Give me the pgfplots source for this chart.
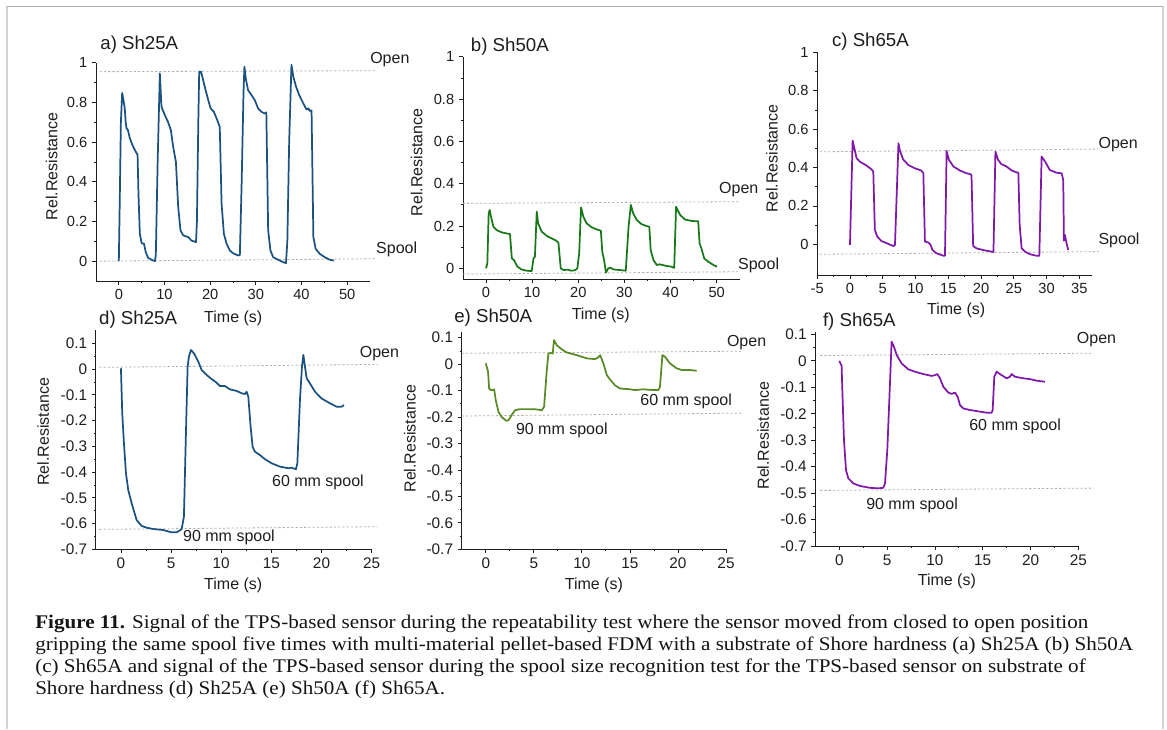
\documentclass[border=0pt]{standalone}
\usepackage{pgfplots}
\pgfplotsset{compat=1.18}
\usepackage{fontspec}
\setmainfont{Liberation Sans}
\newfontfamily\capfont{Liberation Serif}
\definecolor{cblue}{RGB}{28,82,128}
\definecolor{cgreen}{RGB}{25,120,25}
\definecolor{colive}{RGB}{88,138,38}
\definecolor{cpurple}{RGB}{128,24,168}
\definecolor{refgray}{RGB}{175,175,175}
\definecolor{txt}{RGB}{30,30,30}
\pgfplotsset{
  panel/.style={
    scale only axis, anchor=south west, clip=false,
    axis x line*=bottom, axis y line*=left,
    axis line style={-, txt, line width=0.6pt},
    every outer x axis line/.append style={-},
    every outer y axis line/.append style={-},
    tick align=outside,
    major tick length=3pt, minor tick length=1.6pt,
    minor x tick num=1, minor y tick num=1,
    tick style={txt, line width=0.6pt},
    tick label style={font=\fontsize{11}{13}\selectfont, text=txt},
    /pgf/number format/assume math mode=true,
    label style={font=\fontsize{12}{14}\selectfont, text=txt},
    every axis plot/.append style={line width=1.3pt, line join=round},
  },
  refline/.style={refgray, line width=0.6pt, dash pattern=on 1.6pt off 1.6pt, forget plot},
}
\tikzset{
  ann/.style={font=\fontsize{12}{14}\selectfont, text=txt, anchor=west, inner sep=0pt},
  ttl/.style={font=\fontsize{14}{16}\selectfont, text=txt, anchor=west, inner sep=0pt},
}
\newlength\capw
\begin{document}
\settowidth\capw{\capfont\fontsize{10}{12}\selectfont\textbf{Figure 11.} Signal of the TPS-based sensor during the repeatability test where the sensor moved from closed to open position}%
\pgfmathsetmacro\capsx{789.75/\capw}%
\begin{tikzpicture}
\useasboundingbox (0,0) rectangle (875.25pt,-546.75pt);
\fill[white] (0,0) rectangle (875.25pt,-546.75pt);
% frame
\draw[gray!35, line width=1.4pt] (5.475pt,-4.725pt) -- (5.475pt,-546.75pt);
\draw[gray!35, line width=1.4pt] (872.5pt,-4.725pt) -- (872.5pt,-546.75pt);
\draw[gray!60, line width=1pt] (5.475pt,-4.725pt) -- (872.5pt,-4.725pt);

% ---------------- a) ----------------
\begin{axis}[panel, at={(72pt,-210.75pt)}, width=205.5pt, height=163.7pt,
  xmin=-5, xmax=55, ymin=-0.1, ymax=1,
  xtick={0,10,20,30,40,50}, ytick={0,0.2,0.4,0.6,0.8,1},
  xlabel={Time (s)}, ylabel={Rel.Resistance},
  xlabel style={at={(axis description cs:0.501,-0.171)}, anchor=center},
  ylabel style={at={(axis description cs:-0.162,0.524)}, anchor=center}]
\addplot[refline] coordinates {(-4.2,0.955) (56.3,0.96)};
\addplot[refline] coordinates {(-4.2,0) (56.3,0.012)};
\addplot[cblue] coordinates {
(0,0) (0.2,0.3) (0.45,0.7) (0.73,0.848) (0.95,0.82) (1.3,0.77) (1.5,0.7) (1.68,0.67) (2.0,0.66) (2.4,0.62) (3.0,0.584) (3.5,0.56) (4.0,0.54) (4.1,0.54) (4.3,0.34) (4.6,0.138) (5.0,0.09) (5.5,0.088) (5.9,0.045) (6.4,0.017) (7.15,0.007) (7.9,0.0) (8.1,0.03) (8.5,0.5) (8.98,0.946) (9.34,0.778) (10.07,0.736) (10.8,0.70) (11.4,0.66) (11.9,0.576) (12.5,0.5) (13.0,0.273) (13.5,0.155) (14.1,0.13) (15.2,0.121) (15.9,0.104) (16.9,0.096) (17.1,0.2) (17.4,0.7) (17.6,0.955) (18.0,0.955) (18.2,0.938) (18.8,0.88) (19.6,0.81) (20.1,0.77) (20.8,0.753) (21.4,0.72) (22.1,0.677) (22.5,0.29) (23.0,0.138) (23.6,0.088) (24.3,0.054) (25.0,0.04) (26.1,0.029) (26.5,0.03) (26.9,0.4) (27.3,0.85) (27.5,0.98) (27.8,0.92) (28.3,0.862) (29.05,0.837) (29.8,0.81) (30.5,0.77) (31.2,0.753) (31.97,0.744) (32.3,0.75) (32.4,0.6) (32.7,0.155) (33.2,0.054) (33.8,0.02) (34.9,0.007) (36.0,-0.005) (36.6,-0.01) (36.9,0.1) (37.3,0.6) (37.8,0.99) (38.2,0.93) (38.8,0.88) (39.5,0.837) (40.4,0.795) (41.1,0.764) (41.5,0.77) (41.8,0.757) (42.2,0.76) (42.6,0.121) (43.1,0.062) (44.0,0.037) (45.1,0.02) (46.2,0.007) (47.1,0.003)};
\node[ttl] at (axis description cs:0.015,1.081) {a) Sh25A};
\node[ann] at (axis cs:55.0,1.017) {Open};
\node[ann] at (axis cs:56.3,0.058) {Spool};
\end{axis}

% ---------------- b) ----------------
\begin{axis}[panel, at={(347.2pt,-209.2pt)}, width=207.6pt, height=166.65pt,
  xmin=-5, xmax=55, ymin=-0.05, ymax=1,
  xtick={0,10,20,30,40,50}, ytick={0,0.2,0.4,0.6,0.8,1},
  xlabel={Time (s)}, ylabel={Rel.Resistance},
  xlabel style={at={(axis description cs:0.498,-0.162)}, anchor=center},
  ylabel style={at={(axis description cs:-0.167,0.525)}, anchor=center}]
\addplot[refline] coordinates {(-5,0.307) (55.1,0.315)};
\addplot[refline] coordinates {(-5,-0.027) (55.1,-0.016)};
\addplot[cgreen] coordinates {
(0,0) (0.29,0.024) (0.58,0.26) (0.8,0.276) (1.08,0.244) (1.6,0.197) (2.3,0.181) (3.4,0.17) (4.5,0.165) (5.2,0.162) (5.6,0.047) (6.07,0.039) (6.8,0.008) (7.7,-0.005) (8.8,-0.011) (9.9,-0.013) (10.3,0.047) (10.6,0.055) (11.0,0.268) (11.3,0.213) (12.1,0.173) (13.2,0.153) (14.2,0.142) (15.2,0.131) (15.7,0.121) (16.2,0.0) (16.8,-0.008) (17.8,-0.006) (18.4,-0.011) (19.3,-0.009) (19.8,0.0) (20.2,0.071) (20.6,0.288) (21.1,0.244) (21.8,0.213) (22.9,0.194) (24.0,0.184) (24.9,0.178) (25.2,0.079) (25.6,0.039) (26.0,-0.02) (26.5,0.0) (27.0,0.003) (27.6,-0.005) (29.0,-0.008) (30.3,-0.011) (30.9,0.197) (31.4,0.30) (31.9,0.26) (32.7,0.228) (33.7,0.209) (34.8,0.2) (35.4,0.197) (35.7,0.087) (36.3,0.039) (37.0,0.016) (37.7,0.019) (39.2,0.011) (40.2,0.008) (40.8,0.002) (41.2,0.291) (42.1,0.252) (43.1,0.231) (44.6,0.224) (46.0,0.222) (46.3,0.118) (46.7,0.094) (47.3,0.047) (48.2,0.031) (49.3,0.016) (50.1,0.008)};
\node[ttl] at (axis description cs:0.028,1.045) {b) Sh50A};
\node[ann] at (axis cs:50.5,0.37) {Open};
\node[ann] at (axis cs:54.6,0.012) {Spool};
\end{axis}

% ---------------- c) ----------------
\begin{axis}[panel, at={(612.9pt,-206.25pt)}, width=206.4pt, height=167.0pt,
  xmin=-5, xmax=37, ymin=-0.16, ymax=1,
  xtick={-5,0,5,10,15,20,25,30,35}, ytick={0,0.2,0.4,0.6,0.8,1},
  xlabel={Time (s)}, ylabel={Rel.Resistance},
  xlabel style={at={(axis description cs:0.505,-0.157)}, anchor=center},
  ylabel style={at={(axis description cs:-0.165,0.524)}, anchor=center}]
\addplot[refline] coordinates {(-4.6,0.482) (37.9,0.496)};
\addplot[refline] coordinates {(-4.6,-0.052) (37.9,-0.038)};
\addplot[cpurple] coordinates {
(0,-0.003) (0.41,0.54) (0.61,0.509) (1.02,0.448) (1.53,0.43) (2.54,0.41) (3.3,0.39) (3.56,0.378) (3.8,0.075) (4.17,0.04) (4.8,0.017) (5.85,0.002) (6.6,-0.009) (6.87,-0.003) (7.4,0.526) (7.6,0.49) (8.1,0.443) (8.9,0.413) (9.9,0.396) (10.9,0.384) (11.2,0.37) (11.44,0.014) (12.0,0.009) (12.3,-0.003) (12.6,-0.03) (13.2,-0.047) (14.3,-0.06) (14.5,-0.06) (14.75,0.486) (15.1,0.44) (15.8,0.405) (16.8,0.384) (17.8,0.37) (18.4,0.365) (18.55,0.36) (18.8,-0.009) (19.3,-0.021) (20.3,-0.03) (21.6,-0.038) (21.9,-0.04) (22.2,0.483) (22.6,0.44) (23.1,0.418) (23.9,0.405) (24.7,0.384) (25.4,0.375) (25.7,0.373) (25.9,0.1) (26.2,-0.021) (26.7,-0.038) (27.5,-0.052) (28.5,-0.06) (28.9,-0.06) (29.25,0.457) (29.8,0.43) (30.5,0.387) (31.5,0.373) (32.3,0.37) (32.55,0.335) (32.65,0.019) (32.8,0.049) (33.0,0.014) (33.3,-0.03)};
\node[ttl] at (axis description cs:0.053,1.048) {c) Sh65A};
\node[ann] at (axis cs:37.9,0.522) {Open};
\node[ann] at (axis cs:37.9,0.022) {Spool};
\end{axis}

% ---------------- d) ----------------
\begin{axis}[panel, at={(71.9pt,-412.0pt)}, width=206.85pt, height=164.2pt,
  xmin=-2.5, xmax=25, ymin=-0.7, ymax=0.15,
  xtick={0,5,10,15,20,25}, ytick={-0.7,-0.6,-0.5,-0.4,-0.3,-0.2,-0.1,0,0.1},
  tick label style={font=\fontsize{11.5}{13}\selectfont},
  xlabel={Time (s)}, ylabel={Rel.Resistance},
  xlabel style={at={(axis description cs:0.498,-0.163)}, anchor=center},
  ylabel style={at={(axis description cs:-0.191,0.537)}, anchor=center}]
\addplot[refline] coordinates {(-2.16,0.0066) (25.6,0.018)};
\addplot[refline] coordinates {(-2.16,-0.6225) (25.6,-0.612)};
\addplot[cblue] coordinates {
(0,0.003) (0.13,-0.172) (0.3,-0.288) (0.5,-0.405) (0.73,-0.47) (1.06,-0.52) (1.56,-0.586) (2.06,-0.609) (2.56,-0.616) (3.22,-0.621) (4.22,-0.625) (5.05,-0.634) (5.55,-0.634) (6.05,-0.622) (6.28,-0.573) (6.48,-0.25) (6.65,0.01) (6.78,0.048) (6.98,0.074) (7.28,0.061) (7.71,0.029) (8.05,-0.004) (8.38,-0.017) (8.88,-0.034) (9.54,-0.053) (9.87,-0.066) (10.37,-0.066) (10.87,-0.079) (11.54,-0.085) (12.03,-0.094) (12.37,-0.097) (12.53,-0.088) (12.7,-0.107) (12.93,-0.224) (13.13,-0.302) (13.36,-0.321) (13.86,-0.334) (14.36,-0.35) (15.03,-0.366) (15.86,-0.379) (16.69,-0.385) (17.02,-0.383) (17.45,-0.389) (17.59,-0.366) (17.85,-0.12) (18.05,0.009) (18.19,0.055) (18.35,0.009) (18.52,-0.036) (18.85,-0.056) (19.35,-0.088) (20.0,-0.114) (20.84,-0.133) (21.5,-0.146) (22.0,-0.146) (22.24,-0.14)};
\node[ttl] at (axis description cs:0.011,1.047) {d) Sh25A};
\node[ann] at (axis cs:23.8,0.061) {Open};
\node[ann] at (axis cs:15.05,-0.4416) {60 mm spool};
\node[ann] at (axis cs:6.18,-0.655) {90 mm spool};
\end{axis}

% ---------------- e) ----------------
\begin{axis}[panel, at={(346.3pt,-412.0pt)}, width=198.2pt, height=162.7pt,
  xmin=-2.5, xmax=25, ymin=-0.7, ymax=0.12,
  xtick={0,5,10,15,20,25}, ytick={-0.7,-0.6,-0.5,-0.4,-0.3,-0.2,-0.1,0,0.1},
  tick label style={font=\fontsize{11.5}{13}\selectfont},
  xlabel={Time (s)}, ylabel={Rel.Resistance},
  xlabel style={at={(axis description cs:0.5,-0.165)}, anchor=center},
  ylabel style={at={(axis description cs:-0.196,0.51)}, anchor=center}]
\addplot[refline] coordinates {(-2.5,0.041) (26.8,0.049)};
\addplot[refline] coordinates {(-2.5,-0.196) (26.8,-0.185)};
\addplot[colive] coordinates {
(0,0.003) (0.24,-0.028) (0.35,-0.092) (0.52,-0.098) (0.73,-0.098) (0.87,-0.095) (1.04,-0.136) (1.32,-0.18) (1.66,-0.2) (2.12,-0.214) (2.36,-0.212) (2.7,-0.192) (3.05,-0.174) (3.57,-0.17) (4.6,-0.17) (5.3,-0.171) (5.83,-0.174) (6.07,-0.161) (6.35,-0.023) (6.52,0.04) (6.87,0.043) (6.97,0.04) (7.1,0.091) (7.38,0.072) (7.9,0.056) (8.43,0.044) (9.47,0.034) (10.5,0.022) (11.37,0.019) (11.72,0.026) (11.9,0.034) (12.24,0.003) (12.59,-0.041) (12.93,-0.058) (13.45,-0.08) (13.97,-0.092) (15.0,-0.095) (15.53,-0.098) (16.4,-0.095) (17.44,-0.098) (17.96,-0.098) (18.13,-0.085) (18.38,0.034) (18.65,0.028) (19.17,0.003) (19.87,-0.016) (20.39,-0.022) (21.25,-0.022) (21.95,-0.025)};
\node[ttl] at (axis description cs:-0.029,1.066) {e) Sh50A};
\node[ann] at (axis cs:25.08,0.0805) {Open};
\node[ann] at (axis cs:16.06,-0.142) {60 mm spool};
\node[ann] at (axis cs:3.12,-0.249) {90 mm spool};
\end{axis}

% ---------------- f) ----------------
\begin{axis}[panel, at={(611.55pt,-409.5pt)}, width=197.2pt, height=160.7pt,
  xmin=-2.5, xmax=25, ymin=-0.7, ymax=0.11,
  xtick={0,5,10,15,20,25}, ytick={-0.7,-0.6,-0.5,-0.4,-0.3,-0.2,-0.1,0,0.1},
  tick label style={font=\fontsize{11.5}{13}\selectfont},
  xlabel={Time (s)}, ylabel={Rel.Resistance},
  xlabel style={at={(axis description cs:0.5,-0.166)}, anchor=center},
  ylabel style={at={(axis description cs:-0.199,0.515)}, anchor=center}]
\addplot[refline] coordinates {(-2.0,0.02) (26.6,0.029)};
\addplot[refline] coordinates {(-2.0,-0.49) (26.6,-0.481)};
\addplot[cpurple] coordinates {
(0,0.0) (0.24,-0.019) (0.35,-0.148) (0.49,-0.3) (0.7,-0.413) (0.94,-0.444) (1.46,-0.463) (2.16,-0.473) (3.2,-0.48) (4.08,-0.482) (4.6,-0.48) (4.78,-0.463) (5.02,-0.337) (5.3,-0.085) (5.47,0.072) (5.72,0.053) (6.0,0.022) (6.52,-0.01) (7.22,-0.032) (7.91,-0.041) (8.79,-0.05) (9.66,-0.057) (10.0,-0.054) (10.25,-0.05) (10.53,-0.066) (10.88,-0.098) (11.4,-0.12) (11.75,-0.125) (12.1,-0.12) (12.38,-0.136) (12.62,-0.167) (12.97,-0.18) (13.67,-0.186) (14.71,-0.192) (15.41,-0.196) (15.93,-0.196) (16.04,-0.186) (16.21,-0.06) (16.46,-0.041) (16.8,-0.05) (17.5,-0.066) (17.85,-0.06) (18.03,-0.05) (18.37,-0.06) (19.25,-0.066) (19.94,-0.069) (20.64,-0.075) (21.51,-0.079)};
\node[ttl] at (axis description cs:0.028,1.047) {f) Sh65A};
\node[ann] at (axis cs:24.83,0.081) {Open};
\node[ann] at (axis cs:13.57,-0.249) {60 mm spool};
\node[ann] at (axis cs:2.79,-0.545) {90 mm spool};
\end{axis}

% ---------------- caption ----------------
\begin{scope}[every node/.style={anchor=base west, inner sep=0pt, text=black!92}]
\node at (26.25pt,-471pt) {\scalebox{\capsx}[1.45]{\capfont\fontsize{10}{12}\selectfont\textbf{Figure 11.} Signal of the TPS-based sensor during the repeatability test where the sensor moved from closed to open position}};
\node at (26.25pt,-487.5pt) {\scalebox{\capsx}[1.45]{\capfont\fontsize{10}{12}\selectfont gripping the same spool five times with multi-material pellet-based FDM with a substrate of Shore hardness (a) Sh25A (b) Sh50A}};
\node at (26.25pt,-504pt) {\scalebox{\capsx}[1.45]{\capfont\fontsize{10}{12}\selectfont (c) Sh65A and signal of the TPS-based sensor during the spool size recognition test for the TPS-based sensor on substrate of}};
\node at (26.25pt,-520.5pt) {\scalebox{\capsx}[1.45]{\capfont\fontsize{10}{12}\selectfont Shore hardness (d) Sh25A (e) Sh50A (f) Sh65A.}};
\end{scope}
\end{tikzpicture}
\end{document}
